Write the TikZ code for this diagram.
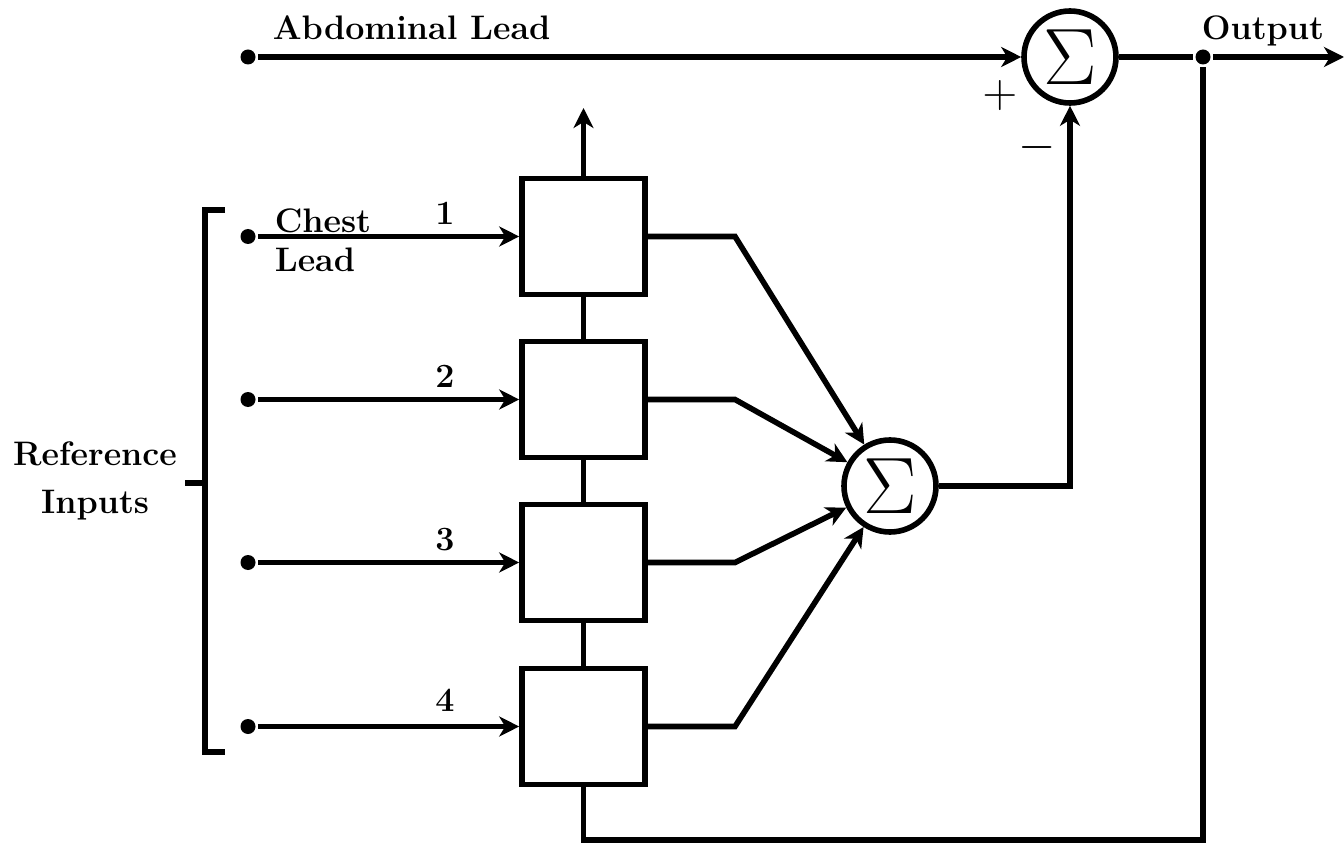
\RequirePackage{fix-cm}
\documentclass[tikz,border=0pt]{standalone}
\usetikzlibrary{arrows.meta,calc}
\begin{document}
\begin{tikzpicture}[x=0.5pt,y=-0.5pt,line width=2.8pt,
  arr/.style={-{Stealth[length=10pt,width=10pt,inset=3pt]}},
  dot/.style={circle,fill=black,inner sep=0pt,minimum size=7.5pt},
  sumc/.style={circle,draw,inner sep=0pt,minimum size=46pt,font=\fontsize{40}{42}\selectfont},
  blk/.style={draw,minimum width=61.5pt,minimum height=58pt,inner sep=0pt},
  lbl/.style={font=\fontsize{17}{20}\selectfont\bfseries,inner sep=0pt},
  sgn/.style={font=\fontsize{24}{26}\selectfont,inner sep=0pt}]
\useasboundingbox (0,0) rectangle (1344,850);
% summing junctions
\node[sumc] (s1) at (1070,57) {$\Sigma$};
\node[sumc] (s2) at (890,486) {$\Sigma$};
% blocks
\node[blk] (b1) at (583.5,236.5) {};
\node[blk] (b2) at (583.5,399.5) {};
\node[blk] (b3) at (583.5,562.5) {};
\node[blk] (b4) at (583.5,726.5) {};
% dots
\node[dot] (da) at (248,57) {};
\node[dot] (o) at (1203,57) {};
\node[dot] (d1) at (248,236.5) {};
\node[dot] (d2) at (248,399.5) {};
\node[dot] (d3) at (248,562.5) {};
\node[dot] (d4) at (248,726.5) {};
% coordinates
\coordinate (oend) at (1344,57);
\coordinate (up) at (583.5,108);
\coordinate (bl) at (583.5,840);
\coordinate (k1) at (735,236.5);
\coordinate (k2) at (735,399.5);
\coordinate (k3) at (735,562.5);
\coordinate (k4) at (735,726.5);
\coordinate (bt1) at (225,210);
\coordinate (bt2) at (205,210);
\coordinate (bb2) at (205,752);
\coordinate (bb1) at (225,752);
\coordinate (bm) at (205,483);
\coordinate (bmo) at (185,483);
% connectors
\draw[arr] (da) -- (s1);
\draw (s1) -- (o);
\draw[arr] (o) -- (oend);
\draw[arr] (d1) -- (b1.west);
\draw[arr] (d2) -- (b2.west);
\draw[arr] (d3) -- (b3.west);
\draw[arr] (d4) -- (b4.west);
\draw[arr] (b1.north) -- (up);
\draw (b1.south) -- (b2.north);
\draw (b2.south) -- (b3.north);
\draw (b3.south) -- (b4.north);
\draw[line join=miter] (b4.south) -- (bl) -| (o);
\draw[arr,line join=miter] (b1.east) -- (k1) -- (s2);
\draw[arr,line join=miter] (b2.east) -- (k2) -- (s2);
\draw[arr,line join=miter] (b3.east) -- (k3) -- (s2);
\draw[arr,line join=miter] (b4.east) -- (k4) -- (s2);
\draw[arr,line join=miter] (s2.east) -| (s1.south);
% bracket
\draw[line join=miter] (bt1) -- (bt2) -- (bb2) -- (bb1);
\draw (bm) -- (bmo);
% labels
\node[lbl,anchor=base west] (tab) at (270,40) {Abdominal Lead};
\node[lbl,anchor=base west] (tout) at (1199,40) {Output};
\node[lbl,anchor=base west] (tch) at (272,233) {Chest};
\node[lbl,anchor=base west] (tle) at (272,271) {Lead};
\node[lbl] (n1) at (445,213) {1};
\node[lbl] (n2) at (445,376) {2};
\node[lbl] (n3) at (445,540) {3};
\node[lbl] (n4) at (445,700) {4};
\node[lbl,align=center] (tref) at (95,481) {Reference\\[4pt]Inputs};
\node[sgn] (plus) at (1000,96) {$+$};
\node[sgn] (minus) at (1037,148) {$-$};
\end{tikzpicture}
\end{document}
